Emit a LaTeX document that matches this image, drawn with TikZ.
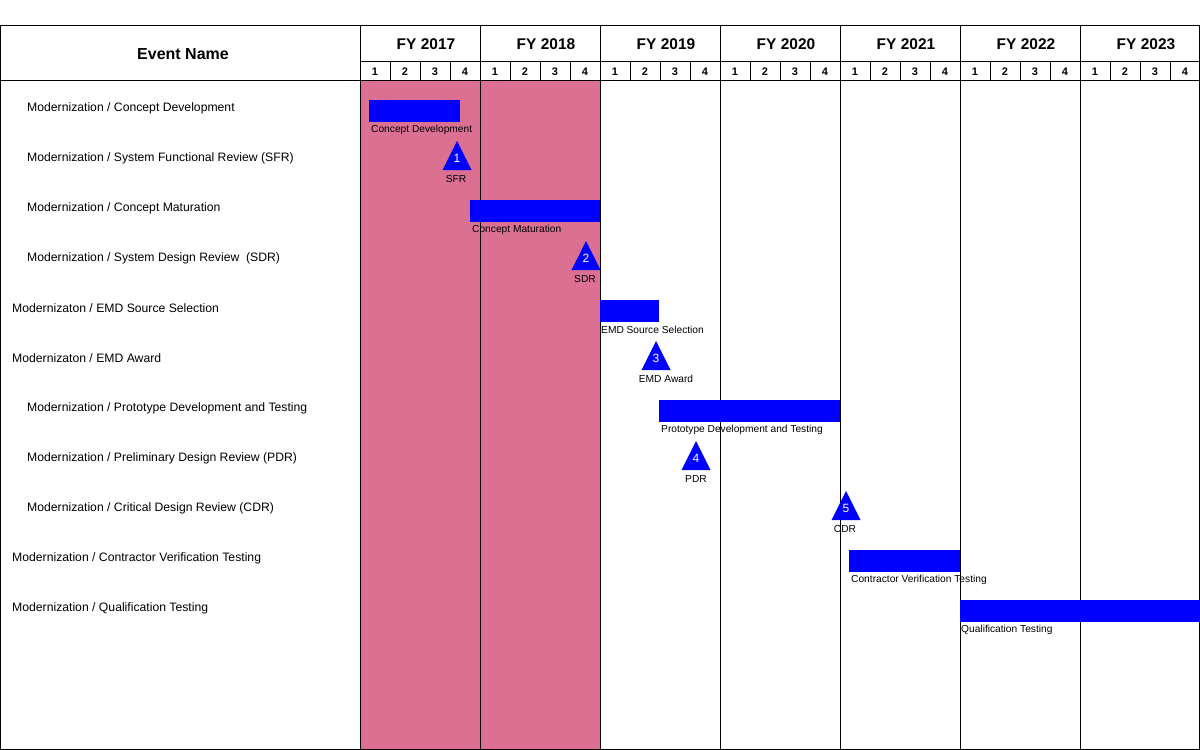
\documentclass[tikz,border=0pt]{standalone}
\usepackage{fontspec}
\setmainfont{Liberation Sans}
\definecolor{fypink}{RGB}{219,112,147}
\definecolor{barblue}{RGB}{0,0,255}
\begin{document}
\begin{tikzpicture}[x=1pt,y=-1pt,
  grid/.style={line width=1pt,black},
  rowlabel/.style={anchor=west,inner sep=0pt,font=\fontsize{12.2}{14}\selectfont},
  yearlabel/.style={inner sep=0pt,font=\fontsize{15.5}{18}\selectfont\bfseries},
  qlabel/.style={inner sep=0pt,font=\fontsize{11}{13}\selectfont\bfseries},
  bar/.style={fill=barblue,draw=none,inner sep=0pt,anchor=north west,minimum height=22pt},
  barlabel/.style={anchor=west,inner sep=0pt,font=\fontsize{10.2}{12}\selectfont},
  milestone/.style={fill=barblue},
  msnum/.style={inner sep=0pt,text=white,font=\fontsize{12}{14}\selectfont},
  mslabel/.style={inner sep=0pt,font=\fontsize{10.2}{12}\selectfont}]
\useasboundingbox (0,0) rectangle (1200,750);
\fill[white] (0,0) rectangle (1200,750);
% pink shading FY2017-2018
\fill[fypink] (360,80) rectangle (600,749.5);
% grid
\draw[grid] (0.5,25.5) rectangle (1199.5,749.5);
\draw[grid] (360,61) -- (1200,61);
\draw[grid] (0,80.5) -- (1200,80.5);
\foreach \i in {0,...,6}{
  \draw[grid] ({360.5+120*\i},25) -- ({360.5+120*\i},749.5);
  \foreach \q in {1,2,3}{
    \draw[grid] ({360.5+120*\i+30*\q},61) -- ({360.5+120*\i+30*\q},80);
  }
}
% bars
\node[bar,minimum width=91pt] (b1) at (369,100) {};
\node[bar,minimum width=130pt] (b3) at (470,200) {};
\node[bar,minimum width=59pt] (b5) at (600,300) {};
\node[bar,minimum width=181pt] (b7) at (659,400) {};
\node[bar,minimum width=111pt] (b10) at (849,550) {};
\node[bar,minimum width=240pt] (b11) at (960,600) {};
% header text
\node[inner sep=0pt,font=\fontsize{16}{19}\selectfont\bfseries] (hdr) at (183,54) {Event Name};
\foreach \y [count=\i from 0] in {2017,2018,2019,2020,2021,2022,2023}{
  \node[yearlabel] (fy\y) at ({426+120*\i},44.5) {FY \y};
  \foreach \q in {1,2,3,4}{
    \node[qlabel] (q\y-\q) at ({360+120*\i+30*\q-15},71.5) {\q};
  }
}
% row labels
\node[rowlabel] (r1) at (27,108) {Modernization / Concept Development};
\node[rowlabel] (r2) at (27,158) {Modernization / System Functional Review (SFR)};
\node[rowlabel] (r3) at (27,208) {Modernization / Concept Maturation};
\node[rowlabel] (r4) at (27,258) {Modernization / System Design Review\ \ (SDR)};
\node[rowlabel] (r5) at (12,308) {Modernizaton / EMD Source Selection};
\node[rowlabel] (r6) at (12,358) {Modernizaton / EMD Award};
\node[rowlabel] (r7) at (27,408) {Modernization / Prototype Development and Testing};
\node[rowlabel] (r8) at (27,458) {Modernization / Preliminary Design Review (PDR)};
\node[rowlabel] (r9) at (27,508) {Modernization / Critical Design Review (CDR)};
\node[rowlabel] (r10) at (12,558) {Modernization / Contractor Verification Testing};
\node[rowlabel] (r11) at (12,608) {Modernization / Qualification Testing};
% bar labels
\node[barlabel] (bl1) at (371,129.5) {Concept Development};
\node[barlabel] (bl3) at (472,229.5) {Concept Maturation};
\node[barlabel] (bl5) at (601,329.5) {EMD Source Selection};
\node[barlabel] (bl7) at (661,429.5) {Prototype Development and Testing};
\node[barlabel] (bl10) at (851,579.5) {Contractor Verification Testing};
\node[barlabel] (bl11) at (961,629.5) {Qualification Testing};
% milestones
\foreach \n/\cx/\ap/\lab/\lx in {1/457/141/SFR/456, 2/586/241/SDR/585, 3/656/341/EMD Award/666, 4/696/441/PDR/696, 5/846/491/CDR/845}{
  \fill[milestone] ({\cx-14.5},{\ap+29}) -- (\cx,\ap) -- ({\cx+14.5},{\ap+29}) -- cycle;
  \node[msnum] (m\n) at (\cx,{\ap+17}) {\n};
  \node[mslabel] (ml\n) at (\lx,{\ap+37.5}) {\lab};
}
\end{tikzpicture}
\end{document}
